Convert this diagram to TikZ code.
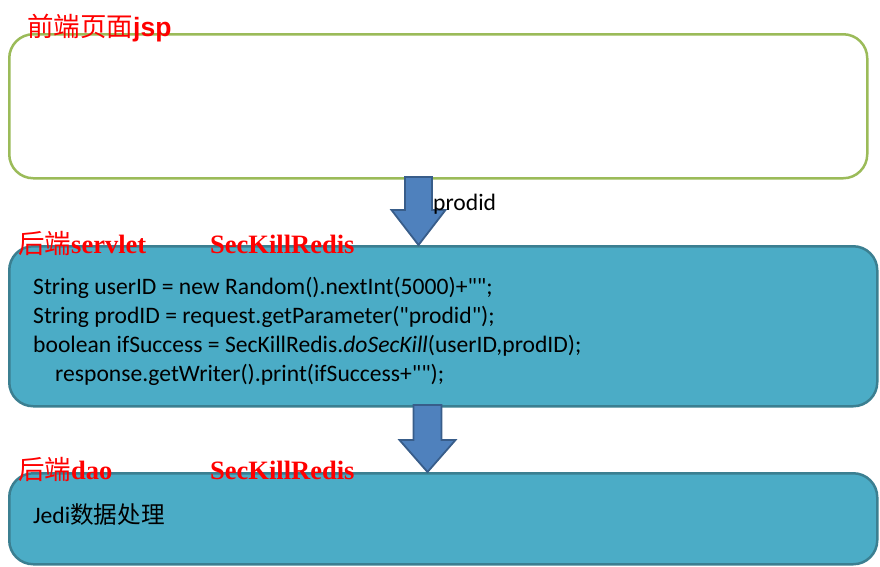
\documentclass[tikz,border=0pt]{standalone}
\usepackage{fontspec}
\setmainfont{Liberation Serif}
\setsansfont{Carlito}[Ligatures=TeXOff]
\newfontfamily\cjk{Noto Sans CJK SC}
\newfontfamily\arialbf{Liberation Sans}[BoldFont={* Bold}]
\usepackage{tikz}
\usepackage{xcolor}
\usetikzlibrary{positioning, calc}

\definecolor{frontgreen}{HTML}{9BBB59}
\definecolor{backfill}{HTML}{4BACC6}
\definecolor{backline}{HTML}{3B7F91}
\definecolor{arrowfill}{HTML}{4F81BD}
\definecolor{arrowline}{HTML}{385D8A}

\begin{document}
\begin{tikzpicture}[
    x=1pt, y=-1pt,
    frontbox/.style={rectangle, draw=frontgreen, line width=2.5pt, fill=white, rounded corners=24pt, anchor=north west, inner sep=0},
    backbox/.style={rectangle, draw=backline, line width=2.5pt, fill=backfill, rounded corners=24pt, anchor=north west, inner sep=0},
    layer/.style={text=red, font=\fontsize{26.5}{30}\selectfont, anchor=base west, inner sep=0},
    code/.style={font=\sffamily\fontsize{23.6}{29}\selectfont, anchor=base west, inner sep=0},
    blockarrow/.style={fill=arrowfill, draw=arrowline, line width=1.8pt, line join=miter}
]
\useasboundingbox (0,0) rectangle (880,566);

% three layers
\node[frontbox, minimum width=858pt, minimum height=144pt] (jsp) at (8,33) {};
\node[backbox, minimum width=868pt, minimum height=160pt] (servlet) at (8,245) {};
\node[backbox, minimum width=868pt, minimum height=91pt] (dao) at (8,472) {};

% arrows between layers
\coordinate (top1) at (418.5,177);
\coordinate (top2) at (427.5,405);
\draw[blockarrow] (top1) ++(-13.5,0) -- ++(0,33) -- ++(-13.5,0) -- (top1 |- servlet.north)
    -- ($(top1)+(27,33)$) -- ++(-13.5,0) -- ++(0,-33) -- cycle;
\draw[blockarrow] (top2) ++(-14,0) -- ++(0,35) -- ++(-14,0) -- (top2 |- dao.north)
    -- ($(top2)+(28,35)$) -- ++(-14,0) -- ++(0,-35) -- cycle;
\node[code, anchor=base west] (prodid) at (433,210) {prodid};

% labels
\node[layer] (lbljsp) at (27,36) {{\cjk 前端页面}{\arialbf\bfseries jsp}};
\node[layer] (lblservlet) at (18,253) {{\cjk 后端}\textbf{servlet}};
\node[layer] (clsservlet) at (210,253) {\textbf{SecKillRedis}};
\node[layer] (lbldao) at (18,479) {{\cjk 后端}\textbf{dao}};
\node[layer] (clsdao) at (210,479) {\textbf{SecKillRedis}};

% box contents
\node[code] (line1) at (33,294) {String userID = new Random().nextInt(5000)+"";};
\node[code] (line2) at (33,323) {String prodID = request.getParameter("prodid");};
\node[code] (line3) at (33,352) {boolean ifSuccess = SecKillRedis.\textit{doSecKill}(userID,prodID);};
\node[code] (line4) at (55,381) {response.getWriter().print(ifSuccess+"");};
\node[code] (jedi) at (33,523) {Jedi{\cjk 数据处理}};
\end{tikzpicture}
\end{document}
